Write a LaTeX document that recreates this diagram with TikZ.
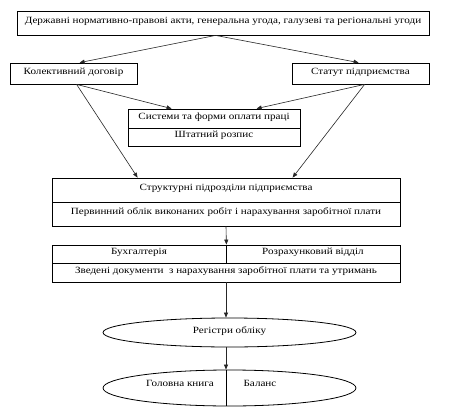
\documentclass[tikz,border=0pt]{standalone}
\usepackage{fontspec}
\setmainfont{Liberation Serif}[FakeStretch=1.17]
\usetikzlibrary{arrows.meta,shapes.geometric,calc}
\begin{document}
\begin{tikzpicture}[x=1pt,y=-1pt,
  txt/.style={font=\fontsize{9.5}{11}\selectfont,text height=6.5pt,text depth=5pt},
  box/.style={draw=black,line width=0.8pt,rectangle,inner sep=0pt,txt},
  ell/.style={draw=black,line width=0.8pt,ellipse,inner sep=0pt,txt},
  lbl/.style={inner sep=0pt,txt},
  arr/.style={draw=black!85,line width=0.6pt,-{Triangle[length=5pt,width=4pt]}},
  ln/.style={draw=black,line width=0.8pt}]
\useasboundingbox (0,0) rectangle (459,413);
\fill[white] (0,0) rectangle (459,413);
% boxes
\node[box,minimum width=412pt,minimum height=24pt] (top) at (223,23) {Державні нормативно-правові акти, генеральна угода, галузеві та регіональні угоди};
\node[box,minimum width=127pt,minimum height=21pt] (kol) at (73.5,73.5) {Колективний договір};
\node[box,minimum width=137pt,minimum height=21pt] (stat) at (360.5,73.5) {Статут підприємства};
\node[box,minimum width=172pt,minimum height=19pt] (sys1) at (214,118.5) {Системи та форми оплати праці};
\node[box,minimum width=172pt,minimum height=18pt] (sys2) at (214,137) {Штатний розпис};
\node[box,minimum width=348pt,minimum height=24pt] (str1) at (226,190) {Структурні підрозділи підприємства};
\node[box,minimum width=348pt,minimum height=24pt] (str2) at (226,214) {Первинний облік виконаних робіт і нарахування заробітної плати};
\node[box,minimum width=174pt,minimum height=18pt] (buh) at (139,254) {Бухгалтерія};
\node[box,minimum width=174pt,minimum height=18pt] (roz) at (313,254) {Розрахунковий відділ};
\node[box,minimum width=348pt,minimum height=19pt] (zved) at (226,272.5) {Зведені документи\ \ з нарахування заробітної плати та утримань};
\node[ell,minimum width=253pt,minimum height=29pt] (reg) at (229.5,332.5) {Регістри обліку};
\node[ell,minimum width=253pt,minimum height=36pt] (bot) at (229.5,388) {};
\node[lbl] (gol) at (180,386) {Головна книга};
\node[lbl] (bal) at (260,386) {Баланс};
% connectors
\coordinate (topS) at ([xshift=199pt]top.south west);
\coordinate (kolS) at ([xshift=67pt]kol.south west);
\coordinate (statS) at ([xshift=73pt]stat.south west);
\draw[arr] (topS) -- ([xshift=70pt]kol.north west);
\draw[arr] (topS) -- ([xshift=67pt]stat.north west);
\draw[arr] (kolS) -- ([xshift=44pt]sys1.north west);
\draw[arr] (kolS) -- ([xshift=86pt]str1.north west);
\draw[arr] (statS) -- ([xshift=129pt]sys1.north west);
\draw[arr] (statS) -- ([xshift=241pt]str1.north west);
\draw[arr] (str2.south) -- (buh.north east);
\draw[arr] (zved.south) -- (zved.south |- reg.north);
\draw[arr] (zved.south |- reg.south) -- (zved.south |- bot.north);
\draw[ln] (zved.south |- bot.north) -- (zved.south |- bot.south);
\end{tikzpicture}
\end{document}
